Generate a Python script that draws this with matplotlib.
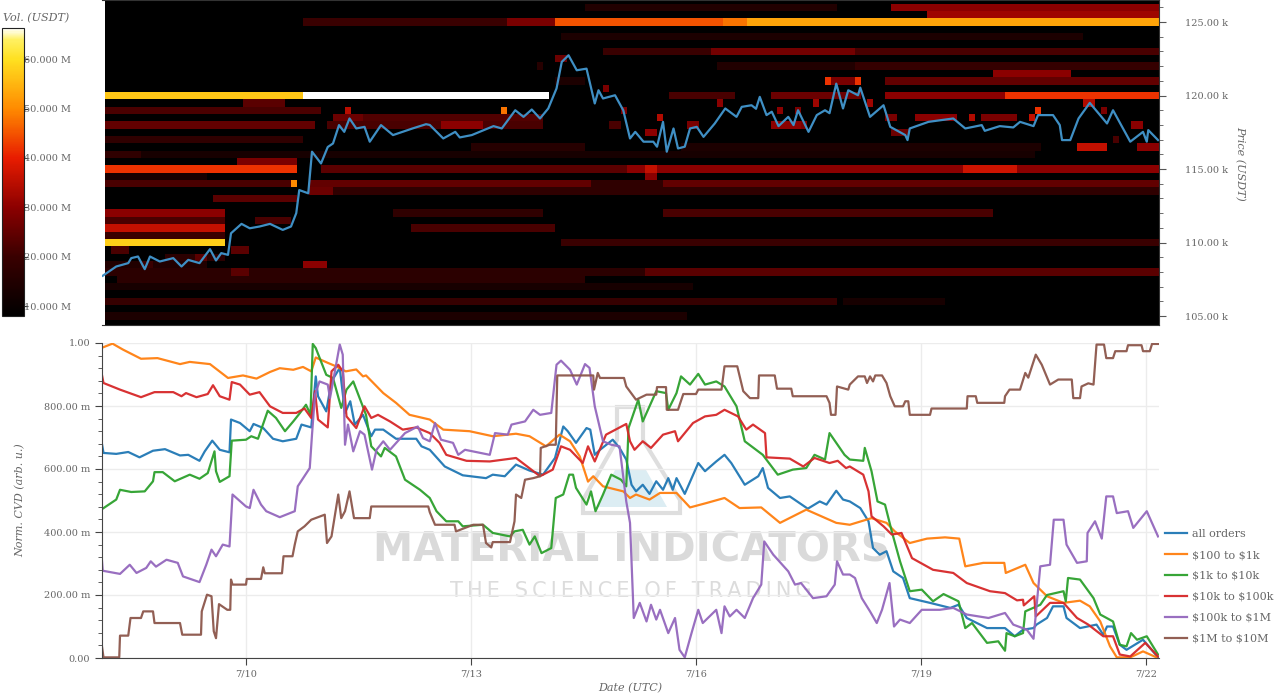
import numpy as np
import matplotlib
matplotlib.use('Agg')
import matplotlib.pyplot as plt
from matplotlib.colors import LinearSegmentedColormap, Normalize
from matplotlib.patches import Polygon
from matplotlib.ticker import FixedLocator, FuncFormatter, MultipleLocator

# days of July (UTC) and CVD values
t_blue = [8.07,8.10,8.27,8.43,8.58,8.76,8.92,9.12,9.23,9.38,9.45,9.55,9.65,9.78,9.80,9.92,10.05,10.10,10.23,10.36,10.49,10.67,10.74,10.87,10.93,10.96,11.07,11.14,11.25,11.32,11.39,11.45,11.56,11.67,11.72,11.83,12.0,12.27,12.34,12.45,12.65,12.89,13.2,13.29,13.45,13.6,13.78,13.96,14.12,14.23,14.29,14.4,14.54,14.59,14.65,14.72,14.89,14.98,15.07,15.14,15.2,15.29,15.38,15.47,15.56,15.63,15.69,15.74,15.85,16.03,16.12,16.27,16.38,16.47,16.65,16.83,16.89,16.96,17.12,17.25,17.49,17.65,17.74,17.87,17.96,18.05,18.19,18.3,18.36,18.45,18.54,18.63,18.76,18.85,19.12,19.39,19.5,19.61,19.88,20.12,20.25,20.36,20.5,20.54,20.68,20.76,20.9,20.94,21.12,21.34,21.43,21.48,21.56,21.65,21.74,21.96,22.16]
v_blue = [.693,.651,.648,.654,.637,.658,.663,.643,.645,.626,.656,.69,.661,.653,.757,.746,.72,.743,.73,.696,.688,.696,.741,.732,.894,.831,.783,.878,.921,.778,.815,.741,.772,.704,.725,.725,.696,.696,.672,.661,.608,.58,.571,.582,.577,.614,.595,.582,.635,.735,.72,.683,.73,.725,.645,.661,.693,.667,.63,.55,.529,.55,.521,.561,.534,.571,.534,.571,.521,.619,.593,.624,.645,.619,.55,.577,.603,.54,.508,.513,.474,.497,.487,.531,.503,.497,.476,.434,.349,.328,.339,.275,.254,.19,.175,.159,.169,.127,.095,.095,.069,.09,.095,.106,.127,.164,.164,.127,.095,.106,.074,.1,.1,.042,.026,.058,.002]

t_orange = [8.07,8.22,8.36,8.6,8.82,9.12,9.25,9.52,9.76,9.96,10.14,10.32,10.45,10.63,10.76,10.87,10.93,11.09,11.2,11.33,11.47,11.56,11.6,11.83,12.0,12.18,12.45,12.63,12.98,13.29,13.6,13.78,14.0,14.18,14.32,14.45,14.56,14.63,14.76,15.03,15.12,15.2,15.38,15.52,15.74,15.92,16.14,16.38,16.58,16.87,17.12,17.47,17.87,18.05,18.34,18.54,18.65,18.85,19.08,19.32,19.51,19.59,19.83,20.11,20.13,20.39,20.5,20.68,20.9,21.12,21.25,21.39,21.52,21.61,21.79,21.96,22.14]
v_orange = [.984,.998,.979,.95,.952,.933,.94,.933,.889,.897,.887,.908,.92,.915,.924,.91,.954,.937,.926,.91,.916,.894,.897,.841,.81,.772,.757,.725,.72,.704,.712,.704,.672,.709,.688,.64,.56,.577,.545,.529,.508,.519,.503,.524,.524,.478,.492,.508,.476,.478,.429,.471,.429,.423,.444,.429,.402,.365,.379,.383,.379,.291,.302,.302,.27,.296,.238,.196,.175,.182,.164,.116,.037,.002,.002,.021,.002]

t_green = [8.07,8.27,8.32,8.47,8.65,8.76,8.78,8.89,9.05,9.25,9.38,9.49,9.58,9.6,9.65,9.78,9.81,10.0,10.07,10.16,10.29,10.4,10.52,10.63,10.72,10.8,10.86,10.89,10.93,11.07,11.16,11.27,11.34,11.43,11.6,11.67,11.8,11.85,12.0,12.12,12.32,12.45,12.54,12.67,12.83,12.89,13.16,13.29,13.52,13.58,13.69,13.78,13.85,13.94,14.07,14.13,14.23,14.31,14.36,14.4,14.54,14.6,14.66,14.76,14.87,15.0,15.07,15.1,15.23,15.29,15.47,15.6,15.63,15.74,15.8,15.92,16.03,16.12,16.27,16.38,16.54,16.65,16.89,17.09,17.29,17.47,17.58,17.72,17.78,17.98,18.05,18.23,18.25,18.34,18.42,18.52,18.61,18.72,18.85,19.01,19.16,19.3,19.5,19.59,19.68,19.88,20.03,20.12,20.14,20.25,20.36,20.39,20.59,20.68,20.9,20.93,20.96,21.12,21.3,21.39,21.56,21.65,21.74,21.8,21.88,22.01,22.16]
v_green = [.471,.503,.534,.527,.529,.561,.59,.59,.561,.582,.569,.587,.656,.593,.559,.577,.69,.693,.704,.696,.785,.762,.72,.751,.778,.804,.772,.997,.984,.899,.889,.794,.852,.878,.772,.672,.64,.667,.64,.566,.534,.508,.466,.434,.434,.418,.423,.397,.386,.402,.407,.36,.386,.333,.349,.508,.519,.582,.582,.54,.487,.529,.466,.519,.582,.566,.545,.73,.82,.751,.847,.841,.788,.841,.894,.868,.902,.868,.878,.862,.799,.688,.645,.582,.598,.603,.645,.63,.714,.645,.63,.626,.667,.593,.497,.487,.402,.307,.212,.217,.18,.203,.18,.095,.111,.048,.053,.023,.079,.069,.079,.148,.169,.2,.212,.18,.254,.249,.19,.138,.116,.042,.037,.079,.058,.069,.011]

t_red = [8.07,8.1,8.32,8.6,8.78,9.03,9.14,9.2,9.34,9.49,9.56,9.65,9.78,9.81,9.92,10.05,10.18,10.32,10.49,10.67,10.78,10.87,10.92,10.96,11.09,11.14,11.23,11.29,11.34,11.47,11.58,11.67,11.76,11.92,12.09,12.27,12.45,12.58,12.67,12.94,13.25,13.6,13.92,14.09,14.2,14.32,14.49,14.56,14.65,14.8,15.07,15.12,15.18,15.29,15.4,15.56,15.72,15.76,15.96,16.12,16.27,16.38,16.56,16.67,16.76,16.92,16.94,17.25,17.43,17.58,17.78,17.89,18.0,18.05,18.23,18.3,18.34,18.5,18.61,18.74,18.88,19.16,19.43,19.61,19.92,20.12,20.28,20.36,20.37,20.51,20.53,20.72,20.9,21.08,21.23,21.43,21.56,21.65,21.79,21.99,22.16]
v_red = [.91,.873,.852,.828,.844,.844,.831,.841,.828,.838,.866,.831,.82,.876,.868,.836,.844,.799,.778,.778,.792,.762,.847,.757,.732,.91,.931,.91,.767,.73,.799,.762,.772,.751,.725,.732,.714,.683,.645,.626,.624,.635,.577,.598,.672,.661,.619,.672,.624,.709,.743,.688,.661,.688,.667,.709,.72,.688,.746,.767,.772,.788,.767,.725,.741,.714,.637,.633,.608,.635,.619,.626,.603,.608,.582,.529,.45,.418,.392,.397,.317,.28,.27,.238,.212,.206,.183,.185,.167,.196,.132,.175,.175,.127,.106,.069,.069,.011,.005,.048,.005]

t_purple = [8.07,8.09,8.32,8.45,8.54,8.67,8.73,8.8,8.94,9.09,9.16,9.38,9.47,9.54,9.6,9.69,9.78,9.82,10.0,10.05,10.1,10.2,10.27,10.45,10.65,10.69,10.85,10.88,10.92,10.98,11.09,11.12,11.25,11.29,11.32,11.36,11.43,11.52,11.58,11.68,11.74,11.83,11.92,12.12,12.29,12.36,12.45,12.52,12.6,12.76,12.83,12.92,13.25,13.32,13.49,13.54,13.72,13.83,13.92,14.07,14.14,14.2,14.32,14.41,14.52,14.58,14.65,14.76,14.87,14.98,15.07,15.12,15.17,15.25,15.34,15.4,15.47,15.52,15.63,15.72,15.78,15.85,15.94,16.03,16.09,16.27,16.34,16.38,16.45,16.54,16.65,16.76,16.87,16.91,17.03,17.23,17.32,17.4,17.56,17.74,17.85,17.88,17.96,18.05,18.12,18.21,18.32,18.41,18.48,18.58,18.64,18.72,18.85,19.01,19.25,19.43,19.61,19.9,20.12,20.23,20.41,20.5,20.59,20.72,20.77,20.9,20.94,21.08,21.21,21.22,21.32,21.41,21.47,21.56,21.61,21.76,21.83,22.01,22.16]
v_purple = [.339,.277,.267,.296,.27,.286,.307,.29,.312,.302,.259,.241,.296,.344,.323,.36,.354,.519,.481,.476,.534,.487,.466,.447,.466,.545,.603,.709,.836,.878,.868,.825,.995,.963,.677,.741,.656,.72,.709,.598,.661,.688,.661,.714,.735,.698,.688,.746,.693,.683,.645,.661,.645,.714,.709,.741,.751,.788,.772,.778,.931,.944,.915,.868,.933,.921,.799,.688,.677,.672,.497,.429,.127,.175,.116,.169,.122,.153,.079,.127,.026,.002,.079,.153,.111,.153,.079,.164,.132,.153,.127,.19,.233,.37,.328,.275,.233,.238,.19,.196,.233,.307,.265,.265,.254,.19,.148,.111,.153,.238,.1,.122,.111,.153,.153,.159,.138,.127,.143,.106,.09,.061,.291,.296,.439,.439,.36,.302,.307,.397,.434,.379,.513,.513,.46,.466,.413,.466,.386]

t_brown = [8.07,8.1,8.31,8.32,8.43,8.46,8.6,8.63,8.76,8.78,9.12,9.15,9.4,9.41,9.48,9.54,9.57,9.6,9.64,9.75,9.79,9.8,9.82,10.0,10.01,10.2,10.23,10.25,10.48,10.5,10.62,10.65,10.69,10.78,10.87,11.05,11.08,11.14,11.23,11.27,11.32,11.38,11.44,11.65,11.67,12.43,12.45,12.52,12.78,12.8,13.03,13.16,13.2,13.27,13.29,13.52,13.58,13.6,13.67,13.72,13.83,13.92,13.93,14.05,14.13,14.15,14.63,14.64,14.69,14.72,15.04,15.07,15.2,15.34,15.47,15.48,15.6,15.61,15.76,15.83,16.0,16.03,16.34,16.38,16.55,16.63,16.72,16.83,16.84,17.05,17.08,17.27,17.29,17.74,17.78,17.8,17.86,17.88,18.03,18.05,18.16,18.25,18.28,18.32,18.36,18.39,18.48,18.54,18.59,18.65,18.76,18.79,18.83,18.85,19.12,19.14,19.61,19.62,19.73,19.75,20.11,20.12,20.18,20.32,20.39,20.43,20.53,20.61,20.72,20.83,21.01,21.03,21.12,21.14,21.23,21.3,21.34,21.44,21.47,21.56,21.59,21.74,21.76,21.94,21.96,22.05,22.08,22.16]
v_brown = [.053,.002,.002,.071,.071,.127,.127,.148,.148,.111,.111,.074,.074,.148,.201,.196,.085,.063,.171,.153,.153,.249,.233,.233,.251,.251,.288,.269,.269,.323,.323,.36,.402,.418,.439,.455,.365,.386,.519,.444,.466,.529,.444,.444,.481,.481,.463,.423,.423,.402,.423,.423,.365,.351,.368,.368,.434,.519,.508,.566,.571,.577,.667,.677,.677,.897,.897,.852,.905,.889,.889,.862,.82,.836,.836,.86,.86,.788,.788,.838,.838,.852,.852,.926,.926,.847,.825,.825,.897,.897,.855,.855,.831,.831,.81,.772,.772,.862,.852,.868,.894,.894,.873,.894,.878,.897,.897,.873,.831,.799,.799,.815,.815,.772,.772,.792,.792,.831,.831,.81,.81,.831,.852,.852,.905,.89,.963,.931,.868,.884,.884,.825,.825,.862,.872,.868,.995,.995,.952,.952,.974,.974,.993,.993,.974,.974,.997,.997]

# BTC price (k USDT)
t_price = [8.09,8.27,8.43,8.47,8.56,8.65,8.72,8.85,9.03,9.14,9.23,9.38,9.52,9.6,9.67,9.76,9.8,9.94,10.05,10.18,10.32,10.49,10.6,10.67,10.71,10.83,10.88,11.0,11.09,11.16,11.24,11.31,11.38,11.47,11.58,11.65,11.8,11.96,12.22,12.4,12.45,12.63,12.79,12.85,13.01,13.3,13.41,13.59,13.7,13.81,13.92,14.03,14.14,14.21,14.3,14.41,14.54,14.65,14.7,14.76,14.92,15.03,15.12,15.19,15.3,15.43,15.48,15.56,15.61,15.7,15.76,15.85,15.92,16.01,16.1,16.25,16.39,16.54,16.61,16.74,16.8,16.85,16.94,17.01,17.1,17.23,17.3,17.36,17.5,17.61,17.72,17.78,17.87,17.96,18.03,18.16,18.19,18.32,18.5,18.59,18.79,18.82,18.85,19.1,19.43,19.59,19.81,19.85,20.05,20.23,20.32,20.5,20.56,20.76,20.85,20.88,20.99,21.1,21.25,21.48,21.56,21.79,21.96,22.01,22.03,22.16]
v_price = [107.74,108.37,108.6,108.94,109.05,108.19,109.05,108.71,108.94,108.37,108.82,108.6,109.55,108.78,109.28,109.16,110.63,111.27,110.97,111.09,111.27,110.86,111.09,112.0,113.57,113.35,116.18,115.38,116.5,116.74,117.99,117.53,118.44,117.76,117.87,116.86,117.99,117.31,117.76,118.05,118.0,117.08,117.53,117.15,117.31,117.92,117.76,119.0,118.55,119.05,118.44,119.12,120.48,122.29,122.74,121.72,121.83,119.46,120.36,119.8,120.02,119.0,117.08,117.53,116.86,116.86,116.52,118.21,116.18,117.76,116.4,116.52,117.76,117.87,117.19,118.1,119.12,118.55,119.23,119.34,119.1,119.91,118.67,118.9,117.92,118.55,117.99,119.0,117.53,118.67,119.0,118.8,120.81,119.12,120.36,120.02,120.54,118.55,119.34,117.87,117.31,116.97,117.76,118.21,118.44,117.76,117.99,117.6,117.92,117.83,118.21,117.92,118.67,118.67,117.99,116.97,116.97,118.44,119.5,118.1,119.0,116.86,117.53,116.86,117.65,116.97]

# order book heatmap: price level (k), start day, end day, volume (M USDT)
heat_price = [120,120,120,120,120,119,118,117,116,115.5,115,115,115,115,114,114,114,113.5,113,112,111.5,111,111,110.5,110,110,109,108.5,108,108,108,107.5,107,106,106,105,125.5,125,125,125,125,125,124,123,123,123,122,122,121,121,121,116.5,116,112,112,111.5,114.5,113.5,113.5,118.5,118,118,118,119,119,118.5,118.5,122.5,122,120.5,120,119,118.5,117.5,115,114.5,118,118,119.5,118,119,119,119.7,121,121,119.5,118.5,117.5,118.5,118.5,118.5,118.5,119,119.5,119,117,118,116.5,116.5,119.5,109,108.5,109.5,109.5,108.5,116.7,114,113.5,126,126,121.5,125.5]
heat_start = [8.12,10.8,15.68,18.52,20.1,8.12,8.12,8.12,8.12,9.9,8.12,11.0,15.1,19.6,8.12,10.62,10.85,10.85,9.6,8.12,8.12,8.12,12.18,8.12,8.12,14.2,8.9,8.12,8.12,9.78,15.35,8.3,8.12,8.12,18.0,8.12,19.1,10.78,13.5,14.1,16.36,16.7,14.2,14.75,16.2,18.1,16.3,18.1,14.1,17.8,18.52,15.8,8.6,15.55,12.0,10.1,8.12,14.0,16.8,11.15,11.1,12.63,14.85,11.3,13.44,13.1,11.6,14.1,13.85,14.75,17.0,15.0,15.45,15.35,15.3,15.3,15.9,17.0,16.25,17.4,17.1,17.3,17.6,17.75,18.1,18.3,18.5,18.6,18.9,19.65,19.8,20.45,20.5,21.2,21.42,21.6,21.8,21.85,21.1,10.0,9.3,8.6,8.2,9.78,10.78,13.0,14.6,11.2,18.6,14.5,20.0]
heat_end = [10.8,14.01,16.5,20.1,22.2,11.0,10.9,10.8,9.9,10.7,10.7,15.1,22.2,20.3,10.6,10.72,22.2,22.2,10.65,9.7,9.7,9.7,14.1,9.7,9.7,22.2,9.7,9.5,15.35,10.05,22.2,14.5,16.0,17.9,19.3,15.9,22.2,13.5,14.1,16.36,16.7,22.2,21.2,16.2,18.1,22.2,18.1,22.2,14.5,18.1,22.2,20.6,20.5,20.0,14.0,10.6,9.5,16.8,22.2,12.3,14.0,13.2,15.0,11.4,13.52,13.4,14.0,14.27,14.0,14.88,18.2,15.08,15.53,15.5,15.45,15.45,16.05,17.5,16.33,17.5,17.18,17.38,17.68,17.83,18.17,18.4,18.72,18.85,19.45,19.7,20.3,20.53,20.58,21.3,21.5,21.68,22.0,22.2,21.5,10.5,9.5,8.75,8.4,10.03,11.1,14.5,15.6,18.0,22.2,17.9,21.0]
heat_vol = [57,72,22,30,42,22,25,18,18,28,42,24,30,37,22,50,25,26,24,30,22,36,22,20,58,20,17,15,17,24,24,17,13,19,13,14,32,20,28,45,48,53,14,20,27,22,15,19,14,28,25,14,13,22,18,22,13,15,18,26,22,30,22,35,48,20,23,26,16,28,26,28,34,30,36,30,28,30,30,28,30,28,32,42,42,32,28,26,30,34,28,36,42,34,28,22,30,30,36,24,24,20,22,24,30,16,18,18,30,15,30]

cbar_ticks = [10, 20, 30, 40, 50, 60]
price_ticks = [105, 110, 115, 120, 125]
cvd_ticks = [0, 0.2, 0.4, 0.6, 0.8, 1.0]
cvd_labels = ['0.00', '200.00 m', '400.00 m', '600.00 m', '800.00 m', '1.00']
date_ticks = [10, 13, 16, 19, 22]
date_labels = ['7/10', '7/13', '7/16', '7/19', '7/22']

txt = '#666666'
plt.rcParams['font.family'] = ['DejaVu Serif']
plt.rcParams['font.size'] = 7


def rect(l, t, r, b):
    return [l / 1280, 1 - b / 699, (r - l) / 1280, (b - t) / 699]


fig = plt.figure(figsize=(12.8, 6.99), dpi=100)
xlim = (8.08, 22.173)

# heatmap matrix
rows = np.arange(104.5, 127, 0.5)
cols = np.arange(8.12, 22.2, 0.08)
heat = np.full((len(rows), len(cols)), 8.0)
centers = cols + 0.04
for p, a, b, v in zip(heat_price, heat_start, heat_end, heat_vol):
    i = np.argmin(np.abs(rows - p))
    heat[i, (centers >= a) & (centers < b)] = v

stops = [(8, '#000000'), (20, '#3a0000'), (30, '#8c0000'), (40, '#e81c00'), (50, '#ff8a00'),
         (60, '#ffe020'), (64, '#fff060'), (66.3, '#ffffff')]
cmap = LinearSegmentedColormap.from_list('vol', [((s - 8) / 58.3, c) for s, c in stops])
norm = Normalize(8, 66.3)

ax1 = fig.add_axes(rect(102, 0, 1159, 325))
im = ax1.imshow(heat, origin='lower', aspect='auto', cmap=cmap, norm=norm, interpolation='nearest',
                extent=[cols[0], cols[-1] + 0.08, rows[0] - 0.25, rows[-1] + 0.25])
ax1.plot(t_price, v_price, color='#3f8fc4', lw=1.6)
ax1.set_xlim(xlim)
ax1.set_ylim(104.39, 126.5)
ax1.set_xticks([])
ax1.yaxis.tick_right()
ax1.yaxis.set_major_locator(FixedLocator(price_ticks))
ax1.yaxis.set_minor_locator(MultipleLocator(1))
ax1.yaxis.set_major_formatter(FuncFormatter(lambda v, p: f'{v:.2f} k'))
ax1.tick_params(axis='y', which='major', length=5, color='#555555', labelcolor=txt, pad=14)
ax1.tick_params(axis='y', which='minor', length=3, color='#555555')
ax1.spines['left'].set_visible(False)
for s in ['top', 'bottom', 'right']:
    ax1.spines[s].set_color('#333333')
fig.text(1240 / 1280, 1 - 163 / 699, 'Price (USDT)', rotation=270, style='italic', color=txt,
         fontsize=8, ha='center', va='center')

# colour bar
cax = fig.add_axes(rect(2, 28, 24, 316))
cb = fig.colorbar(im, cax=cax)
cb.set_ticks(cbar_ticks)
cb.ax.yaxis.set_major_formatter(FuncFormatter(lambda v, p: f'{v:.3f} M'))
cb.ax.tick_params(length=3, color='#333333', labelcolor=txt, pad=-3)
cb.outline.set_edgecolor('#222222')
fig.text(3 / 1280, 1 - 18 / 699, 'Vol. (USDT)', style='italic', color=txt, fontsize=8, ha='left', va='center')

# watermark behind the lines
fig.text(631 / 1280, 1 - 550 / 699, 'MATERIAL INDICATORS', fontsize=29, family='DejaVu Sans', weight='bold',
         color='#dadada', ha='center', va='center', zorder=-1)
fig.text(631 / 1280, 1 - 591 / 699, '\u2009'.join('THE SCIENCE OF TRADING'), fontsize=15, family='DejaVu Sans',
         color='#dcdcdc', ha='center', va='center', zorder=-1)
flask = [(617, 407), (643, 407), (643, 440), (680, 500), (680, 513), (583, 513), (583, 500), (617, 440)]
fill = [(615, 470), (646, 470), (667, 507), (597, 507)]
for pts, fc, ec in [(fill, '#dcedf3', 'none'), (flask, 'none', '#dedede')]:
    fig.add_artist(Polygon([(x / 1280, 1 - y / 699) for x, y in pts], closed=True, facecolor=fc, edgecolor=ec,
                           lw=3, transform=fig.transFigure, zorder=-1))

# normalised CVD
ax2 = fig.add_axes(rect(102, 343, 1159, 658))
ax2.patch.set_alpha(0)
series = [('all orders', t_blue, v_blue, 'tab:blue'), ('\\$100 to \\$1k', t_orange, v_orange, 'tab:orange'),
          ('\\$1k to \\$10k', t_green, v_green, 'tab:green'), ('\\$10k to \\$100k', t_red, v_red, 'tab:red'),
          ('\\$100k to \\$1M', t_purple, v_purple, 'tab:purple'), ('\\$1M to \\$10M', t_brown, v_brown, 'tab:brown')]
for name, t, v, c in series:
    ax2.plot(t, v, color=c, lw=1.6, label=name, alpha=0.95)
ax2.set_xlim(xlim)
ax2.set_ylim(0, 1)
ax2.set_xticks(date_ticks, date_labels)
ax2.set_yticks(cvd_ticks, cvd_labels)
ax2.yaxis.set_minor_locator(MultipleLocator(0.04))
ax2.grid(True, color='#ececec', lw=1)
ax2.set_axisbelow(True)
ax2.tick_params(axis='both', which='major', length=5, color='#444444', labelcolor=txt)
ax2.tick_params(axis='y', which='minor', length=3, color='#444444')
for s in ['top', 'right']:
    ax2.spines[s].set_visible(False)
for s in ['left', 'bottom']:
    ax2.spines[s].set_color('#444444')
ax2.set_xlabel('Date (UTC)', style='italic', color=txt, fontsize=8, labelpad=3)
ax2.set_ylabel('Norm. CVD (arb. u.)', style='italic', color=txt, fontsize=8, labelpad=13)
leg = ax2.legend(loc='lower left', bbox_to_anchor=(1.0, 0.028), frameon=False, fontsize=8, labelspacing=0.98,
                 handlelength=2.0, handletextpad=0.5, borderaxespad=0.2, borderpad=0.3)
for t in leg.get_texts():
    t.set_color(txt)

fig.savefig('out.png', dpi=100)
